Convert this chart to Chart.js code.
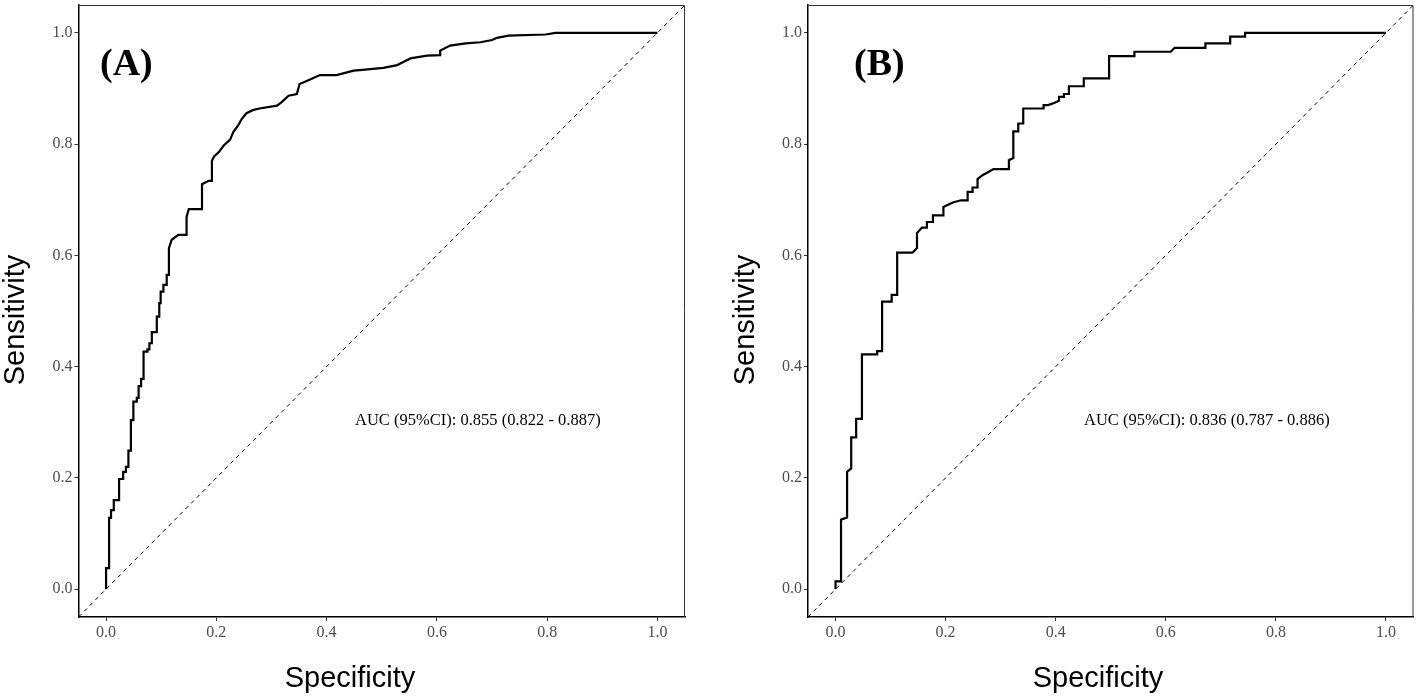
<!DOCTYPE html>
<html>
<head>
<meta charset="utf-8">
<script src="https://cdn.jsdelivr.net/npm/chart.js@4"></script>
<style>
  html, body { margin: 0; padding: 0; background: #fff; }
  #wrap { position: relative; width: 1422px; height: 699px; }
  .panel { position: absolute; top: 0; width: 711px; height: 699px; }
</style>
</head>
<body>
<div id="wrap">
  <div class="panel" style="left:0"><canvas id="cA"></canvas></div>
  <div class="panel" style="left:711px"><canvas id="cB"></canvas></div>
</div>
<script>
// ---------- DATA ----------
const tickValues = [0, 0.2, 0.4, 0.6, 0.8, 1.0];
const tickLabels = ['0.0', '0.2', '0.4', '0.6', '0.8', '1.0'];
const diagonal = [-0.05, 1.05];

const specA = [0,0,0.0055,0.0055,0.009,0.009,0.014,0.014,0.0236,0.0236,0.031,0.031,0.036,0.036,0.0405,0.0405,
  0.045,0.045,0.0495,0.0495,0.0557,0.0557,0.059,0.059,0.0635,0.0635,0.068,0.068,0.075,0.075,0.0786,0.0786,
  0.083,0.083,0.092,0.092,0.0965,0.0965,0.099,0.099,0.104,0.104,0.110,0.110,0.114,0.114,0.119,0.131,0.146,
  0.146,0.150,0.174,0.174,0.186,0.192,0.192,0.196,0.205,0.213,0.225,0.231,0.241,0.246,0.254,0.266,0.278,
  0.310,0.319,0.331,0.346,0.351,0.365,0.379,0.388,0.418,0.449,0.470,0.503,0.528,0.540,0.552,0.582,0.606,
  0.606,0.624,0.652,0.679,0.700,0.709,0.730,0.797,0.815,1.0];
const sensA = [0,0.038,0.038,0.128,0.128,0.142,0.142,0.160,0.160,0.198,0.198,0.211,0.211,0.220,0.220,0.249,
  0.249,0.304,0.304,0.337,0.337,0.344,0.344,0.365,0.365,0.378,0.378,0.427,0.427,0.431,0.431,0.442,
  0.442,0.462,0.462,0.490,0.490,0.514,0.514,0.535,0.535,0.547,0.547,0.565,0.565,0.613,0.628,0.637,0.637,
  0.669,0.683,0.683,0.728,0.734,0.734,0.770,0.778,0.786,0.797,0.808,0.822,0.836,0.845,0.855,0.861,0.864,
  0.869,0.876,0.887,0.890,0.908,0.914,0.920,0.924,0.924,0.932,0.934,0.937,0.942,0.948,0.954,0.959,0.960,
  0.968,0.977,0.981,0.983,0.987,0.991,0.995,0.997,1.0,1.0];

const specB = [0,0,0.010,0.010,0.021,0.021,0.0285,0.0285,0.0375,0.0375,0.048,0.048,0.0756,0.0756,0.0846,0.0846,
  0.102,0.102,0.112,0.112,0.140,0.148,0.148,0.157,0.166,0.166,0.177,0.177,0.196,0.196,0.213,0.228,0.240,
  0.240,0.249,0.249,0.258,0.258,0.267,0.276,0.287,0.315,0.315,0.323,0.323,0.332,0.332,0.341,0.341,0.378,
  0.378,0.386,0.397,0.406,0.406,0.415,0.415,0.424,0.424,0.451,0.451,0.497,0.497,0.543,0.543,0.609,0.616,
  0.672,0.672,0.717,0.717,0.744,0.744,1.0];
const sensB = [0,0.014,0.014,0.125,0.129,0.211,0.217,0.273,0.273,0.306,0.306,0.422,0.422,0.428,0.428,0.517,
  0.517,0.529,0.529,0.605,0.605,0.613,0.640,0.650,0.650,0.660,0.660,0.672,0.672,0.687,0.695,0.699,0.699,
  0.714,0.714,0.722,0.722,0.737,0.744,0.749,0.755,0.755,0.771,0.775,0.823,0.823,0.837,0.837,0.864,0.864,
  0.870,0.870,0.874,0.878,0.885,0.885,0.890,0.890,0.904,0.904,0.918,0.918,0.958,0.958,0.966,0.966,0.973,
  0.973,0.981,0.981,0.993,0.993,1.0,1.0];

const panelLabels = ['(A)', '(B)'];
const aucTexts = ['AUC (95%CI): 0.855 (0.822 - 0.887)', 'AUC (95%CI): 0.836 (0.787 - 0.886)'];
const xTitle = 'Specificity';
const yTitle = 'Sensitivity';

// ---------- DRAWING ----------
function pts(xs, ys) { return xs.map((x, i) => ({ x: x, y: ys[i] })); }

function makeChart(id, xs, ys, idx, cfg) {
  const decor = {
    id: 'decor',
    afterDraw(chart) {
      const ctx = chart.ctx, a = chart.chartArea;
      ctx.save();
      // top & right frame
      ctx.strokeStyle = '#333';
      ctx.lineWidth = 1;
      ctx.beginPath();
      ctx.moveTo(a.left, a.top + 0.5);
      ctx.lineTo(a.right - 0.5, a.top + 0.5);
      ctx.lineTo(a.right - 0.5, a.bottom);
      ctx.stroke();
      ctx.fillStyle = '#000';
      // panel label
      ctx.font = 'bold 38px "Liberation Serif", "Times New Roman", serif';
      ctx.textAlign = 'left';
      ctx.textBaseline = 'alphabetic';
      ctx.fillText(panelLabels[idx], cfg.labelX, 75);
      // AUC text
      ctx.font = '16.5px "Liberation Serif", "Times New Roman", serif';
      ctx.textBaseline = 'middle';
      ctx.fillText(aucTexts[idx], cfg.aucX, 421);
      // x title
      ctx.font = '29px "Liberation Sans", Arial, sans-serif';
      ctx.textAlign = 'center';
      ctx.textBaseline = 'alphabetic';
      ctx.fillText(xTitle, cfg.xTitleX, 687);
      // y title
      ctx.translate(cfg.yTitleX, 320);
      ctx.rotate(-Math.PI / 2);
      ctx.fillText(yTitle, 0, 0);
      ctx.restore();
    }
  };
  const tickFont = { family: '"Liberation Serif", "Times New Roman", serif', size: 16 };
  const setTicks = s => { s.ticks = tickValues.map(v => ({ value: v })); };
  const lab = (v) => { const i = tickValues.findIndex(t => Math.abs(t - v) < 1e-9); return i >= 0 ? tickLabels[i] : ''; };
  return new Chart(document.getElementById(id), {
    type: 'scatter',
    data: {
      datasets: [
        { data: pts(xs, ys), showLine: true, borderColor: '#000', borderWidth: 2.2, pointRadius: 0, tension: 0, borderJoinStyle: 'miter' },
        { data: pts(diagonal, diagonal), showLine: true, borderColor: '#000', borderWidth: 1, borderDash: [4, 4], pointRadius: 0 }
      ]
    },
    options: {
      responsive: true,
      maintainAspectRatio: false,
      animation: false,
      events: [],
      layout: { padding: { left: 0, top: 5, right: cfg.padRight, bottom: 0 } },
      plugins: { legend: { display: false }, tooltip: { enabled: false } },
      scales: {
        x: {
          type: 'linear', min: -0.05, max: 1.05,
          afterBuildTicks: setTicks,
          afterFit: s => { s.height = 82; s.paddingLeft = 0; s.paddingRight = 0; },
          ticks: { font: tickFont, color: '#4d4d4d', padding: 2, maxRotation: 0, autoSkip: false, callback: lab },
          grid: { display: true, drawOnChartArea: false, drawTicks: true, tickLength: 4, color: '#333', lineWidth: 1 },
          border: { display: true, color: '#000', width: 1.5 }
        },
        y: {
          type: 'linear', min: -0.05, max: 1.05,
          afterBuildTicks: setTicks,
          afterFit: s => { s.width = cfg.yWidth; s.paddingTop = 0; s.paddingBottom = 0; },
          ticks: { font: tickFont, color: '#4d4d4d', padding: 2, autoSkip: false, callback: lab },
          grid: { display: true, drawOnChartArea: false, drawTicks: true, tickLength: 4, color: '#333', lineWidth: 1 },
          border: { display: true, color: '#000', width: 1.5 }
        }
      }
    },
    plugins: [decor]
  });
}

makeChart('cA', specA, sensA, 0, { padRight: 26, yWidth: 78.5, labelX: 100, aucX: 355, xTitleX: 350, yTitleX: 24.3 });
makeChart('cB', specB, sensB, 1, { padRight: 8.5, yWidth: 97, labelX: 143, aucX: 373, xTitleX: 387, yTitleX: 43 });
</script>
</body>
</html>
